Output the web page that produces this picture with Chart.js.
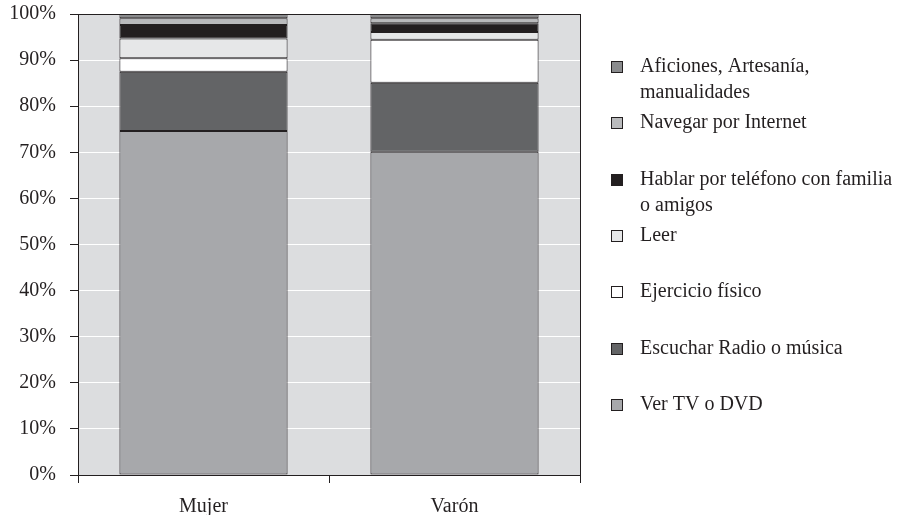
<!DOCTYPE html>
<html>
<head>
<meta charset="utf-8">
<script src="https://cdn.jsdelivr.net/npm/chart.js@4"></script>
<style>
  html, body { margin: 0; padding: 0; background: #fff; }
  #wrap { width: 900px; height: 515px; position: relative; }
</style>
</head>
<body>
<div id="wrap"><canvas id="myChart" width="900" height="515"></canvas></div>
<script>
// data (percent of each group)
const categories = ['Mujer', 'Varón'];
const seriesNames = [
  'Ver TV o DVD',
  'Escuchar Radio o música',
  'Ejercicio físico',
  'Leer',
  'Hablar por teléfono con familia o amigos',
  'Navegar por Internet',
  'Aficiones, Artesanía, manualidades'
];
const verTV      = [74.6, 70.1];
const radio      = [12.9, 15.0];
const ejercicio  = [2.9, 9.3];
const leer       = [4.3, 1.7];
const hablar     = [2.9, 1.9];
const navegar    = [1.5, 1.1];
const aficiones  = [0.9, 0.9];
const yTicks = [0, 10, 20, 30, 40, 50, 60, 70, 80, 90, 100];

// legend text split into lines as printed
const legendLines = [
  ['Aficiones, Artesanía,', 'manualidades'],
  ['Navegar por Internet'],
  ['Hablar por teléfono con familia', 'o amigos'],
  ['Leer'],
  ['Ejercicio físico'],
  ['Escuchar Radio o música'],
  ['Ver TV o DVD']
];

const colors = ['#a7a8ab', '#636466', '#ffffff', '#e6e7e8', '#231f20', '#b9babc', '#8a8b8d'];
const values = [verTV, radio, ejercicio, leer, hablar, navegar, aficiones];
const FONT = '"Liberation Serif", "DejaVu Serif", serif';

const plotBg = {
  id: 'plotBg',
  beforeDraw(chart) {
    const a = chart.chartArea, c = chart.ctx;
    c.save();
    c.fillStyle = '#dcdddf';
    c.fillRect(a.left, a.top, a.right - a.left, a.bottom - a.top);
    c.restore();
  },
  afterDraw(chart) {
    const a = chart.chartArea, c = chart.ctx;
    c.save();
    c.strokeStyle = '#231f20';
    c.lineWidth = 1;
    c.strokeRect(Math.round(a.left) + 0.5, Math.round(a.top) + 0.5,
                 Math.round(a.right - a.left), Math.round(a.bottom - a.top));
    c.restore();
  }
};

// right-hand legend, top entry = top of stack
const sideLegend = {
  id: 'sideLegend',
  afterDraw(chart) {
    const c = chart.ctx;
    const rowsY = [67, 123, 180, 236, 292, 349, 405];
    c.save();
    c.font = '20px ' + FONT;
    c.textBaseline = 'middle';
    legendLines.forEach((lines, i) => {
      const ds = chart.data.datasets[chart.data.datasets.length - 1 - i];
      const y = rowsY[i];
      c.fillStyle = ds.backgroundColor;
      c.fillRect(611, y - 6, 12, 12);
      c.strokeStyle = '#231f20';
      c.lineWidth = 1;
      c.strokeRect(611.5, y - 5.5, 11, 11);
      c.fillStyle = '#231f20';
      lines.forEach((t, k) => c.fillText(t, 640, y + k * 26));
    });
    c.restore();
  }
};

var ctx = document.getElementById('myChart');

var myChart = new Chart(ctx, {
  type: 'bar',
  data: {
    labels: categories,
    datasets: values.map((v, i) => ({
      label: seriesNames[i],
      data: v,
      backgroundColor: colors[i],
      borderColor: '#231f20',
      borderWidth: 1,
      borderSkipped: false,
      categoryPercentage: 1,
      barPercentage: 0.67
    }))
  },
  options: {
    responsive: false,
    animation: false,
    layout: { padding: { top: 14, right: 320, left: 0, bottom: 0 } },
    plugins: { legend: { display: false }, tooltip: { enabled: false } },
    scales: {
      x: {
        stacked: true,
        grid: { drawOnChartArea: false, tickColor: '#231f20', tickLength: 8, offset: true },
        border: { color: '#231f20' },
        ticks: { color: '#231f20', font: { family: FONT, size: 20 }, padding: 12 },
        afterFit(scale) { scale.height = 40; scale.paddingLeft = 0; scale.paddingRight = 0; }
      },
      y: {
        stacked: true,
        min: 0,
        max: 100,
        afterBuildTicks(scale) { scale.ticks = yTicks.map(v => ({ value: v })); },
        grid: { color: '#ffffff', tickColor: '#231f20', tickLength: 8 },
        border: { color: '#231f20' },
        ticks: {
          color: '#231f20',
          font: { family: FONT, size: 20 },
          padding: 14,
          callback: v => v + '%'
        },
        afterFit(scale) { scale.width = 78; scale.paddingTop = 0; scale.paddingBottom = 0; }
      }
    }
  },
  plugins: [plotBg, sideLegend]
});
</script>
</body>
</html>
